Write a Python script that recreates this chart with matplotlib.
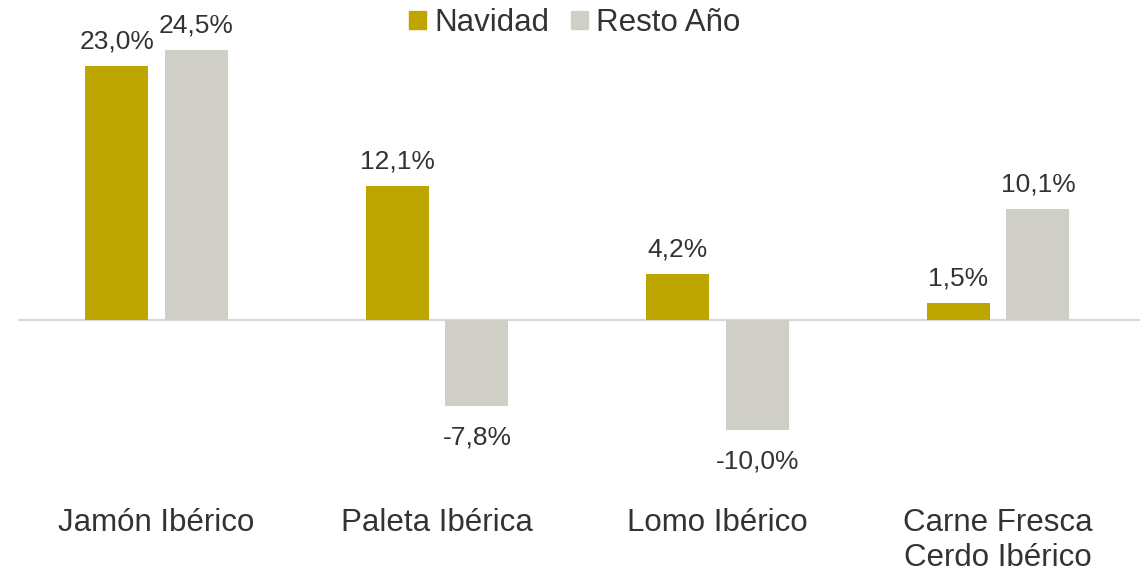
import matplotlib.pyplot as plt
import numpy as np
from matplotlib.patches import Patch

categories = ['Jamón Ibérico', 'Paleta Ibérica', 'Lomo Ibérico', 'Carne Fresca\nCerdo Ibérico']
navidad = [23.0, 12.1, 4.2, 1.5]
resto_ano = [24.5, -7.8, -10.0, 10.1]
series_names = ['Navidad', 'Resto Año']

col_nav = '#BFA500'
col_resto = '#CFCFC7'
txt_col = '#333333'

plt.rcParams['font.family'] = ['Liberation Sans', 'DejaVu Sans']

fig = plt.figure(figsize=(11.43, 5.74), dpi=100)
ax = fig.add_axes([18 / 1143, 74 / 574, 1122 / 1143, 500 / 574])

x = np.arange(len(categories))
w = 0.224
off = 0.142
b1 = ax.bar(x - off, navidad, w, color=col_nav)
b2 = ax.bar(x + off, resto_ano, w, color=col_resto)

ax.set_xlim(-0.494, 3.506)
ax.set_ylim(-16.3, 28.99)
ax.axhline(0, color='#D9D9D9', lw=1.6, zorder=0)

def fmt(v):
    return f'{v:.1f}%'.replace('.', ',')

for bars, vals in ((b1, navidad), (b2, resto_ano)):
    for rect, v in zip(bars, vals):
        cx = rect.get_x() + rect.get_width() / 2
        if v >= 0:
            ax.annotate(fmt(v), (cx, v), xytext=(0, 9), textcoords='offset points',
                        ha='center', va='bottom', fontsize=19, color=txt_col)
        else:
            ax.annotate(fmt(v), (cx, v), xytext=(0, -14), textcoords='offset points',
                        ha='center', va='top', fontsize=19, color=txt_col)

ax.set_xticks(x)
ax.set_xticklabels(categories, fontsize=22.5, color=txt_col, linespacing=1.2)
ax.tick_params(axis='x', length=0, pad=6)
ax.set_yticks([])
for s in ax.spines.values():
    s.set_visible(False)

handles = [Patch(color=col_nav), Patch(color=col_resto)]
fig.legend(handles, series_names, loc='upper center', bbox_to_anchor=(0.503, 1.035), ncol=2,
           frameon=False, fontsize=22.5, handlelength=0.55, handleheight=0.55,
           handletextpad=0.25, columnspacing=0.7, labelcolor=txt_col)

fig.savefig('out.png', dpi=100)
